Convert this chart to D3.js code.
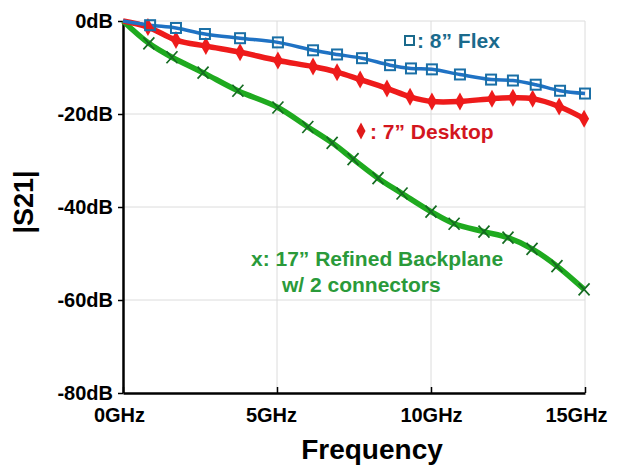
<!DOCTYPE html>
<html>
<head>
<meta charset="utf-8">
<script src="https://cdn.jsdelivr.net/npm/d3@7"></script>
<style>
  body { margin: 0; background: #fff; }
  svg text { font-family: "Liberation Sans", Arial, sans-serif; font-weight: bold; }
</style>
</head>
<body>
<script>
// marker positions (GHz, dB)
var flexFreq = [0, 0.88, 1.72, 2.66, 3.8, 5.03, 6.17, 6.95, 7.76, 8.67, 9.35, 10.03, 10.94, 11.95, 12.66, 13.4, 14.19, 15.0];
var flexDb   = [0, -0.9, -1.5, -2.8, -3.7, -4.6, -6.3, -7.2, -8.0, -9.5, -10.2, -10.4, -11.5, -12.6, -12.8, -13.7, -15.0, -15.6];

var deskFreq = [0, 0.81, 1.72, 2.69, 3.8, 5.03, 6.17, 6.95, 7.7, 8.57, 9.32, 10.03, 10.94, 11.98, 12.66, 13.3, 14.16, 14.97];
var deskDb   = [0, -1.3, -4.1, -5.4, -6.7, -8.5, -9.8, -11.0, -12.6, -14.5, -16.3, -17.3, -17.3, -16.7, -16.5, -16.7, -18.4, -21.0];

var bpFreq = [0, 0.84, 1.59, 2.6, 3.73, 5.03, 6.0, 6.79, 7.47, 8.28, 9.06, 10.0, 10.75, 11.72, 12.5, 13.28, 14.09, 14.97];
var bpDb   = [0, -4.8, -7.8, -11.1, -15.0, -18.6, -22.8, -26.2, -29.7, -33.8, -37.1, -41.0, -43.6, -45.3, -46.6, -49.0, -52.7, -57.7];

var xTicks = [0, 5, 10, 15];
var yTicks = [0, -20, -40, -60, -80];

var margin = {top: 21, right: 33, bottom: 73, left: 123},
  width = 618 - margin.left - margin.right,
  height = 466 - margin.top - margin.bottom;

var x = d3.scaleLinear().domain([0, 15]).range([0, width]);
var y = d3.scaleLinear().domain([0, -80]).range([0, height]);

var svg = d3.select("body").append("svg")
  .attr("width", 618)
  .attr("height", 466)
  .append("g")
  .attr("transform", "translate(" + margin.left + "," + margin.top + ")");

// grid
svg.append("g").selectAll("line")
  .data(xTicks.slice(1))
  .enter().append("line")
  .attr("x1", function(d) { return x(d); })
  .attr("x2", function(d) { return x(d); })
  .attr("y1", 0).attr("y2", height)
  .style("stroke", "#dcdcdc").style("stroke-width", 1);

svg.append("g").selectAll("line")
  .data(yTicks.slice(0, 4))
  .enter().append("line")
  .attr("y1", function(d) { return y(d); })
  .attr("y2", function(d) { return y(d); })
  .attr("x1", 0).attr("x2", width)
  .style("stroke", "#dcdcdc").style("stroke-width", 1);

// axes
var xAxis = d3.axisBottom(x).tickValues(xTicks).tickSizeInner(-6).tickSizeOuter(0)
  .tickFormat(function(d) { return d + "GHz"; });
var yAxis = d3.axisLeft(y).tickValues(yTicks).tickSizeInner(5).tickSizeOuter(0)
  .tickFormat(function(d) { return d + "dB"; });

var xShift = {0: -4, 5: -6, 10: 0, 15: -9};

var gx = svg.append("g")
  .attr("transform", "translate(0," + height + ")")
  .call(xAxis);
gx.select(".domain").style("stroke", "#000").style("stroke-width", 2.5);
gx.selectAll(".tick line").style("stroke", "#000").style("stroke-width", 1.5);
gx.selectAll(".tick text").attr("y", 15).attr("dy", "0.71em")
  .attr("dx", function(d) { return xShift[d]; })
  .style("font-size", "20px").style("fill", "#000");

var gy = svg.append("g").call(yAxis);
gy.select(".domain").style("stroke", "#000").style("stroke-width", 2.5);
gy.selectAll(".tick line").style("stroke", "#000").style("stroke-width", 1.5);
gy.selectAll(".tick text").attr("x", -10).style("font-size", "20px").style("fill", "#000");

svg.append("text")
  .attr("x", 372 - margin.left)
  .attr("y", 459 - margin.top)
  .attr("text-anchor", "middle")
  .style("font-size", "28px")
  .text("Frequency");

svg.append("text")
  .attr("transform", "translate(" + (33 - margin.left) + "," + (202 - margin.top) + ") rotate(-90)")
  .attr("text-anchor", "middle")
  .style("font-size", "27px")
  .text("|S21|");

function pts(fs, vs) {
  return fs.map(function(f, i) { return [f, vs[i]]; });
}

var line = d3.line()
  .x(function(d) { return x(d[0]); })
  .y(function(d) { return y(d[1]); })
  .curve(d3.curveCatmullRom);

var flex = pts(flexFreq, flexDb), desk = pts(deskFreq, deskDb), bp = pts(bpFreq, bpDb);

svg.append("path").datum(bp).attr("d", line)
  .style("fill", "none").style("stroke", "#1faa1f").style("stroke-width", 5.5);
svg.append("path").datum(desk).attr("d", line)
  .style("fill", "none").style("stroke", "#ee1b1b").style("stroke-width", 5.5);
svg.append("path").datum(flex).attr("d", line)
  .style("fill", "none").style("stroke", "#1f72c4").style("stroke-width", 3.5);

// markers
svg.append("g").selectAll("path")
  .data(bp.slice(1))
  .enter().append("path")
  .attr("transform", function(d) { return "translate(" + x(d[0]) + "," + y(d[1]) + ")"; })
  .attr("d", "M-5.5,-6L5.5,6M-5.5,6L5.5,-6")
  .style("stroke", "#156b22").style("stroke-width", 1.7);

svg.append("g").selectAll("path")
  .data(desk.slice(1))
  .enter().append("path")
  .attr("transform", function(d) { return "translate(" + x(d[0]) + "," + y(d[1]) + ")"; })
  .attr("d", "M0,-9L5,0L0,9L-5,0Z")
  .style("fill", "#ee1b1b");

svg.append("g").selectAll("rect")
  .data(flex.slice(1))
  .enter().append("rect")
  .attr("x", function(d) { return x(d[0]) - 5; })
  .attr("y", function(d) { return y(d[1]) - 5; })
  .attr("width", 10).attr("height", 10)
  .style("fill", "none").style("stroke", "#1a6fa6").style("stroke-width", 2);

// labels
var lab = svg.append("g").style("font-size", "21px");
lab.append("rect").attr("x", 405 - margin.left).attr("y", 36 - margin.top)
  .attr("width", 9).attr("height", 9)
  .style("fill", "none").style("stroke", "#1a6a8c").style("stroke-width", 2);
lab.append("text").attr("x", 417 - margin.left).attr("y", 48 - margin.top)
  .style("fill", "#1a6a8c").text(": 8\u201D Flex");

lab.append("path").attr("transform", "translate(" + (361 - margin.left) + "," + (131 - margin.top) + ")")
  .attr("d", "M0,-8.5L4.5,0L0,8.5L-4.5,0Z").style("fill", "#e01a1a");
lab.append("text").attr("x", 370 - margin.left).attr("y", 139 - margin.top)
  .style("fill", "#d3161e").text(": 7\u201D Desktop");

lab.append("text").attr("x", 251 - margin.left).attr("y", 266 - margin.top)
  .style("fill", "#2a9a3a").text("x: 17\u201D Refined Backplane");
lab.append("text").attr("x", 282 - margin.left).attr("y", 292 - margin.top)
  .style("fill", "#2a9a3a").text("w/ 2 connectors");
</script>
</body>
</html>
